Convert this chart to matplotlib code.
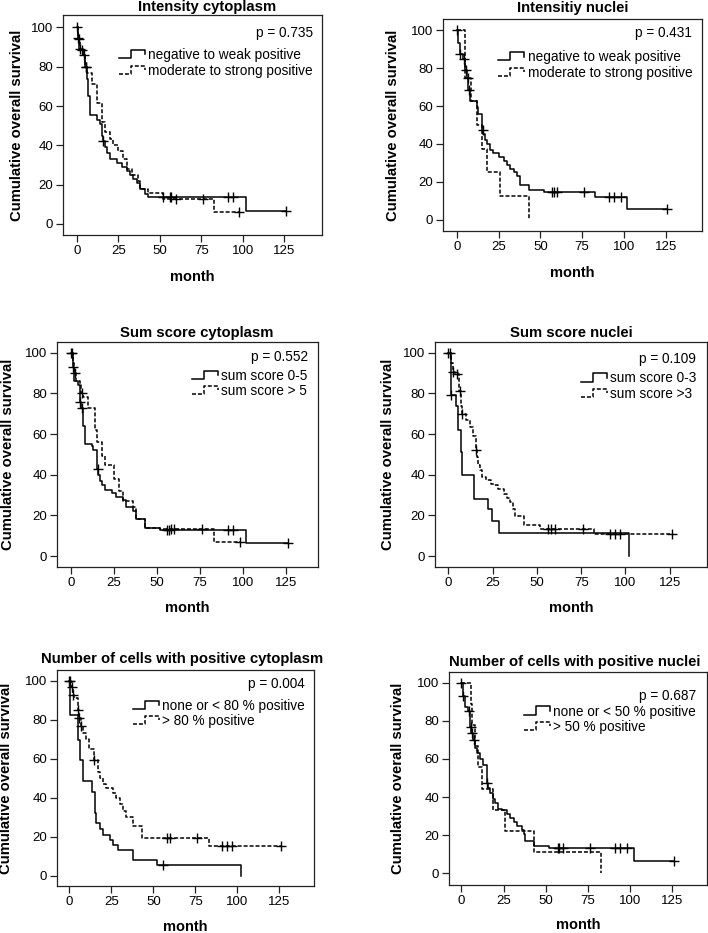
import numpy as np
import matplotlib.pyplot as plt
from matplotlib.lines import Line2D
from matplotlib.legend_handler import HandlerBase

plt.rcParams['font.family'] = ['Liberation Sans', 'DejaVu Sans']

# ---- data (months, % surviving) ----
# 1 Intensity cytoplasm
ic_neg_t = [0, 0.5, 1.5, 4, 5, 6, 7, 8, 12, 14, 15, 16, 17, 18, 20, 24, 27, 30, 32, 34, 36, 38, 41, 43, 102]
ic_neg_s = [100, 94.4, 88.8, 86, 80, 74, 65, 55.5, 53, 51, 45, 42, 39, 36, 33, 31, 29, 27, 25, 23, 21, 18, 15.5, 13.6, 6.8]
ic_neg_c = [0, 1, 2, 4.5, 5.5, 16, 52, 56, 57, 91, 94, 126]
ic_pos_t = [0, 1, 2, 4, 5, 6, 9, 12, 15, 17, 20, 22, 25, 28, 30, 33, 37, 38, 43, 52, 83]
ic_pos_s = [100, 94, 88.5, 86, 80, 77, 71, 61.5, 52, 47, 43, 40, 37, 33, 28, 25, 22, 18, 16, 12.5, 6.3]
ic_pos_c = [1.5, 3, 5.5, 60, 76, 98]

# 2 Intensitiy nuclei
in_neg_t = [0, 1, 2, 4, 5, 6, 7, 8, 12, 13, 15, 16, 17, 18, 20, 22, 25, 28, 30, 32, 34, 36, 38, 43, 52, 83, 102]
in_neg_s = [100, 93, 87.2, 85, 79, 75, 68.5, 62.5, 59.6, 56, 47.4, 45, 42, 40, 37, 35, 33, 31, 29, 27, 25, 23, 18.4, 15.8, 14.5, 11.9, 5.8]
in_neg_c = [0, 2, 4.5, 5.5, 6.5, 7.5, 15.5, 57, 58, 60, 76, 91, 94, 98, 126]
in_pos_t = [0, 5, 8.5, 12, 15, 18, 26, 43]
in_pos_s = [100, 75, 62.5, 50, 37.5, 25, 12.5, 0]
in_pos_c = []

# 3 Sum score cytoplasm
sc_lo_t = [0, 1, 1.5, 4, 5, 6, 7, 8, 12, 13, 15, 16, 17, 18, 20, 24, 26, 30, 32, 36, 38, 43, 52, 102]
sc_lo_s = [100, 93, 86, 84, 76, 72.6, 64, 55, 54, 52, 43, 40, 37, 35, 32.5, 31, 29, 27.5, 24, 22, 18, 14, 12.8, 6.3]
sc_lo_c = [0, 1.2, 5.2, 6.2, 15.5, 56, 57, 91, 94, 126]
sc_hi_t = [0, 1, 2, 3, 5, 6, 7, 10, 14, 15, 18, 20, 25, 28, 30, 36, 38, 43, 52, 83]
sc_hi_s = [100, 95, 90, 86, 84, 80, 78, 73, 62, 56, 49, 45, 38, 32, 27, 24, 18, 14, 13.5, 7]
sc_hi_c = [0.5, 2.5, 6.5, 58, 60, 76, 98]

# 4 Sum score nuclei
sn_lo_t = [0, 1.3, 4.4, 5.7, 7.2, 7.9, 14.7, 22.6, 24.5, 28.6, 102]
sn_lo_s = [100, 79, 74, 62, 51, 39.7, 28.3, 23, 17.2, 11.4, 0]
sn_lo_c = [0, 1.3]
sn_hi_t = [0, 1.5, 2.5, 4, 6, 7, 8, 10, 12.5, 14, 15.4, 16, 17, 18, 19, 21, 24, 26, 28, 31.6, 33.3, 35, 36.7, 37.7, 42.7, 51.8, 82.3]
sn_hi_s = [100, 95, 90.6, 89.5, 81, 74, 70, 66.8, 63.7, 59.1, 52, 48.8, 44.7, 42.2, 38.9, 37.3, 35.6, 34.8, 33.2, 30.7, 28.6, 26.6, 23.3, 19.5, 15.1, 13.3, 11]
sn_hi_c = [1, 2.5, 5, 6.5, 8, 15.4, 56, 58, 60, 76, 91, 94, 97, 126]

# 5 Number of cells with positive cytoplasm
nc_lo_t = [0, 0.6, 5, 6.5, 8, 13.6, 15.2, 16, 18, 20, 24, 26, 29, 38, 52, 102]
nc_lo_s = [100, 82.7, 69.8, 59.6, 48.4, 42.8, 32, 27, 24, 21, 18.5, 16, 13.4, 8, 5.5, 0]
nc_lo_c = [0, 56]
nc_hi_t = [0, 1, 2, 3, 5, 6, 7, 8, 10, 12, 15, 17, 18, 20, 22, 26, 28, 30, 32, 34, 38, 43, 83]
nc_hi_s = [100, 97, 93, 91, 85, 81, 77, 73, 70, 65, 59.4, 53, 50, 47, 45, 42.5, 40, 37, 33, 30, 25.5, 19.2, 15.4]
nc_hi_c = [0.5, 1.5, 2.5, 5, 6, 7, 15, 58, 60, 76, 91, 94, 97, 126]

# 6 Number of cells with positive nuclei
nn_lo_t = [0, 1, 2, 4, 5, 6, 7, 8, 9, 11, 13, 15, 16, 17, 19, 20, 22, 24, 27, 29, 31, 33, 36, 37, 38, 43, 52, 102]
nn_lo_s = [100, 93, 87, 85, 77, 73.4, 70, 66, 63, 60, 56.8, 47.2, 45, 42, 39, 37, 34, 33, 31, 29, 27, 25, 23, 20.5, 17.1, 14.5, 13.5, 6.5]
nn_lo_c = [0, 1.2, 4.5, 5.5, 6.5, 7.5, 15.5, 57, 58, 60, 76, 91, 94, 98, 126]
nn_hi_t = [0, 5.5, 6.5, 8, 10, 12, 19, 26, 43, 83]
nn_hi_s = [100, 88.9, 77.8, 66.7, 55.6, 44.4, 33.3, 22.2, 11.1, 0]
nn_hi_c = []

titles = ['Intensity cytoplasm', 'Intensitiy nuclei', 'Sum score cytoplasm',
          'Sum score nuclei', 'Number of cells with positive cytoplasm',
          'Number of cells with positive nuclei']
pvals = ['p = 0.735', 'p = 0.431', 'p = 0.552', 'p = 0.109', 'p = 0.004', 'p = 0.687']
labels = [('negative to weak positive', 'moderate to strong positive'),
          ('negative to weak positive', 'moderate to strong positive'),
          ('sum score 0-5', 'sum score > 5'),
          ('sum score 0-3', 'sum score >3'),
          ('none or < 80 % positive', '> 80 % positive'),
          ('none or < 50 % positive', '> 50 % positive')]
curves = [((ic_neg_t, ic_neg_s, ic_neg_c), (ic_pos_t, ic_pos_s, ic_pos_c)),
          ((in_neg_t, in_neg_s, in_neg_c), (in_pos_t, in_pos_s, in_pos_c)),
          ((sc_lo_t, sc_lo_s, sc_lo_c), (sc_hi_t, sc_hi_s, sc_hi_c)),
          ((sn_lo_t, sn_lo_s, sn_lo_c), (sn_hi_t, sn_hi_s, sn_hi_c)),
          ((nc_lo_t, nc_lo_s, nc_lo_c), (nc_hi_t, nc_hi_s, nc_hi_c)),
          ((nn_lo_t, nn_lo_s, nn_lo_c), (nn_hi_t, nn_hi_s, nn_hi_c))]

# ---- layout (pixel boxes of the plot frames, limits, text anchors) ----
W, H = 708, 933
boxes = [(63, 15, 322, 235), (443, 19, 702, 231), (57, 342, 318, 567),
         (435, 342, 707, 567), (57, 670, 314, 886), (449, 672, 707, 885)]
xlims = [(-8.3, 147.8), (-8.2, 146.7), (-8.1, 143.6), (-7.5, 146), (-7.3, 145.6), (-7.3, 145.5)]
ylims = [(-5.6, 106.3), (-5.8, 105.8), (-5.4, 105.3), (-5.4, 105.3), (-5.3, 105.6), (-6.1, 105.6)]
title_pos = [(0.556, 1.018), (0.5, 1.033), (0.536, 1.022), (0.5, 1.022), (0.487, 1.032), (0.488, 1.028)]
p_pos = [(0.965, 0.918), (0.961, 0.935), (0.963, 0.935), (0.958, 0.923), (0.965, 0.935), (0.956, 0.887)]
leg_pos = [(0.217, 0.782), (0.2135, 0.783), (0.516, 0.816), (0.536, 0.804), (0.295, 0.799), (0.291, 0.778)]
ylab_x = [-0.152, -0.167, -0.16, -0.148, -0.17, -0.17]
xlab_y = [-0.16, -0.167, -0.149, -0.149, -0.159, -0.157]

DASH = (0, (2.6, 1.3))


class StepIcon(HandlerBase):
    def create_artists(self, legend, orig, xd, yd, w, h, fs, trans):
        x0, y0 = -xd, -yd
        xs = [x0, x0 + 0.47 * w, x0 + 0.47 * w, x0 + w, x0 + w]
        ys = [y0 + 0.05 * h, y0 + 0.05 * h, y0 + 1.0 * h, y0 + 1.0 * h, y0 + 0.5 * h]
        ln = Line2D(xs, ys)
        ln.update_from(orig)
        ln.set_transform(trans)
        return [ln]


def km(ax, t, s, cens, ls):
    end = max([t[-1]] + list(cens))
    ax.step(list(t) + [end], list(s) + [s[-1]], where='post', color='black', lw=1.1, ls=ls)
    if cens:
        idx = np.searchsorted(t, cens, side='right') - 1
        ax.plot(cens, np.array(s)[idx], ls='none', marker='+', ms=7, mew=1.0, color='black')


fig = plt.figure(figsize=(W / 100, H / 100), dpi=100)
for i in range(6):
    x0, y0, x1, y1 = boxes[i]
    ax = fig.add_axes([x0 / W, 1 - y1 / H, (x1 - x0) / W, (y1 - y0) / H])
    (a, b) = curves[i]
    km(ax, *a, '-')
    km(ax, *b, DASH)
    ax.set_xlim(*xlims[i])
    ax.set_ylim(*ylims[i])
    ax.set_xticks([0, 25, 50, 75, 100, 125])
    ax.set_yticks([0, 20, 40, 60, 80, 100])
    ax.tick_params(direction='out', length=5, width=0.9, pad=2, labelsize=9.5, color='#222')
    for sp in ax.spines.values():
        sp.set_linewidth(0.9)
        sp.set_color('#222')
    ax.set_ylabel('Cumulative overall survival', fontsize=10.7, fontweight='bold')
    ax.yaxis.set_label_coords(ylab_x[i], 0.5)
    ax.set_xlabel('month', fontsize=10.5, fontweight='bold')
    ax.xaxis.set_label_coords(0.5, xlab_y[i])
    ax.text(title_pos[i][0], title_pos[i][1], titles[i], transform=ax.transAxes,
            ha='center', va='baseline', fontsize=10.7, fontweight='bold')
    ax.text(p_pos[i][0], p_pos[i][1], pvals[i], transform=ax.transAxes,
            ha='right', va='center', fontsize=9.8)
    h1 = Line2D([], [], color='black', lw=1.1, ls='-')
    h2 = Line2D([], [], color='black', lw=1.1, ls=DASH)
    ax.legend([h1, h2], labels[i], handler_map={Line2D: StepIcon()},
              loc='center left', bbox_to_anchor=leg_pos[i], frameon=False,
              fontsize=9.8, handlelength=1.9, handleheight=0.6, handletextpad=0.25,
              labelspacing=0.1, borderpad=0, borderaxespad=0)

fig.savefig('out.png', dpi=100)
